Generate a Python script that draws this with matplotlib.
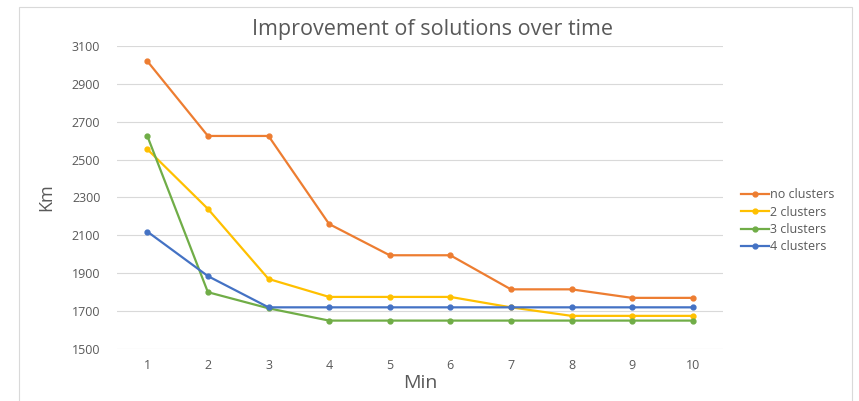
import matplotlib
matplotlib.use("Agg")
import matplotlib.pyplot as plt
from matplotlib.patches import Rectangle

minutes = [1, 2, 3, 4, 5, 6, 7, 8, 9, 10]
no_clusters = [3020, 2625, 2625, 2160, 1995, 1995, 1815, 1815, 1770, 1770]
two_clusters = [2555, 2240, 1870, 1775, 1775, 1775, 1720, 1675, 1675, 1675]
three_clusters = [2625, 1800, 1715, 1650, 1650, 1650, 1650, 1650, 1650, 1650]
four_clusters = [2120, 1885, 1720, 1720, 1720, 1720, 1720, 1720, 1720, 1720]
series_names = ["no clusters", "2 clusters", "3 clusters", "4 clusters"]
y_ticks = [1500, 1700, 1900, 2100, 2300, 2500, 2700, 2900, 3100]

colors = ["#ED7D31", "#FFC000", "#70AD47", "#4472C4"]
txt = "#595959"
plt.rcParams['font.family'] = ['Open Sans', 'DejaVu Sans']

fig = plt.figure(figsize=(8.59, 4.01), dpi=100)
fig.patch.set_facecolor("white")
# chart frame
fig.patches.append(Rectangle((19/859, -0.02), (852-19)/859, 1 - 7/401 + 0.02,
                             transform=fig.transFigure, fill=False,
                             edgecolor="#D9D9D9", lw=0.8))

ax = fig.add_axes([117/859, 1-349/401, (723-117)/859, (349-46)/401])
for vals, name, c in zip([no_clusters, two_clusters, three_clusters, four_clusters], series_names, colors):
    ax.plot(minutes, vals, color=c, lw=1.6, marker="o", markersize=3.5, label=name)

ax.set_xlim(0.5, 10.5)
ax.set_ylim(1500, 3100)
ax.set_yticks(y_ticks)
ax.set_xticks(minutes)
ax.yaxis.grid(True, color="#D9D9D9", lw=0.8)
ax.set_axisbelow(True)
for s in ax.spines.values():
    s.set_visible(False)
ax.tick_params(axis="both", length=0, colors=txt, labelsize=9)
ax.tick_params(axis="y", pad=12)
ax.tick_params(axis="x", pad=7)

ax.set_xlabel("Min", fontsize=14, color=txt, labelpad=2)
ax.set_ylabel("Km", fontsize=13, color=txt, labelpad=12)
fig.text(432/859, 1-27/401, "Improvement of solutions over time", fontsize=15.5,
         color=txt, ha="center", va="center_baseline")

fig.legend(loc="upper left", bbox_to_anchor=(735/859, 1-182/401), frameon=False,
           fontsize=9, labelcolor=txt, handlelength=2.2, handletextpad=0.1,
           labelspacing=0.35, borderpad=0)

fig.savefig("out.png", dpi=100, facecolor="white")
